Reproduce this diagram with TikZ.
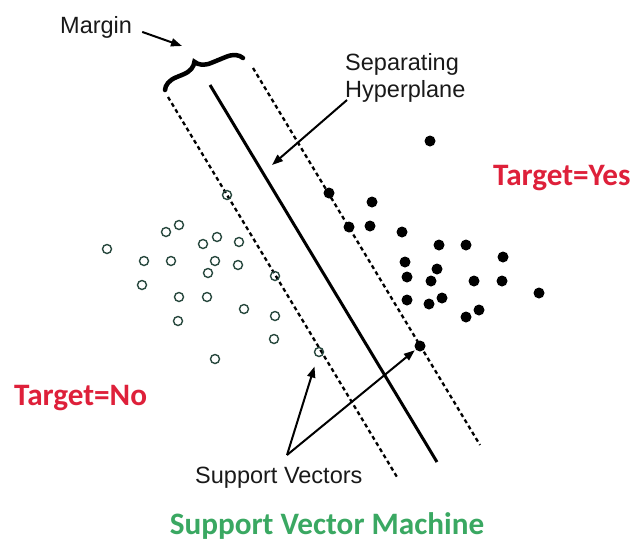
\documentclass[tikz,border=0pt]{standalone}
\usepackage{fontspec}
\setmainfont{Liberation Sans}
\newfontfamily\calib{Carlito}
\usetikzlibrary{decorations.pathreplacing,arrows.meta}
\definecolor{tred}{RGB}{222,32,58}
\definecolor{tgreen}{RGB}{58,168,98}
\definecolor{ocirc}{RGB}{40,72,62}
\begin{document}
\begin{tikzpicture}[x=1pt,y=-1pt,
  yesdot/.style={circle,fill=black,inner sep=0pt,minimum size=11pt},
  nodot/.style={circle,draw=ocirc,line width=1.4pt,inner sep=0pt,minimum size=9pt},
  marginline/.style={line width=2.3pt,dash pattern=on 4pt off 3.2pt},
  hyper/.style={line width=3pt},
  lbl/.style={font=\fontsize{23.5}{27}\selectfont,inner sep=0pt,text=black!90},
  ttl/.style={font=\calib\bfseries\fontsize{31.2}{35}\selectfont,inner sep=0pt},
  arr/.style={line width=2pt,-{Triangle[length=11pt,width=8pt]}}]
\useasboundingbox (0,0) rectangle (634,547);
% lines
\coordinate (hA) at (210,85); \coordinate (hB) at (437,462);
\coordinate (lA) at (168,97); \coordinate (lB) at (397,477);
\coordinate (rA) at (253,68); \coordinate (rB) at (480,445);
\draw[hyper] (hA) -- (hB);
\draw[marginline] (lA) -- (lB);
\draw[marginline] (rA) -- (rB);
% brace
\draw[line width=4.5pt,line cap=round,decorate,decoration={brace,amplitude=15pt,aspect=0.45}] (165,90) -- (243,58);
% filled dots
\foreach \x/\y [count=\i] in {430/141,329/193,372/202,349/227,370/226,402/232,439/245,466/245,503/257,405/262,437/269,407/277,431/281,474/281,502/281,539/293,407/300,429/304,442/298,479/310,466/317,420/346}
  \node[yesdot] (y\i) at (\x,\y) {};
% open circles
\foreach \x/\y [count=\i] in {107/249,166/232,179/225,203/244,217/237,239/242,144/261,171/261,215/261,208/273,238/265,275/276,142/285,179/297,207/297,244/309,275/316,178/321,274/339,215/359,227/195,319/352}
  \node[nodot] (n\i) at (\x,\y) {};
% labels
\node[lbl,anchor=base west] (margin) at (60,33) {Margin};
\coordinate (mtip) at (182,46);
\draw[arr] ([shift={(10,5)}]margin.east) -- (mtip);
\node[lbl,anchor=base west] (sep) at (345,70) {Separating};
\node[lbl,anchor=base west] (hyp) at (345,97) {Hyperplane};
\coordinate (htip) at (272,165);
\draw[arr] ([shift={(2,3)}]hyp.base west) -- (htip);
\node[lbl,anchor=base west] (sv) at (195,483) {Support Vectors};
\coordinate (svtail) at (287,455);
\draw[arr,shorten >=10pt] (svtail) -- (n22);
\draw[arr,shorten >=1pt] (svtail) -- (y22);
\node[ttl,text=tred,anchor=base west] (tyes) at (493,185) {Target=Yes};
\node[ttl,text=tred,anchor=base west] (tno) at (14,405) {Target=No};
\node[ttl,text=tgreen,anchor=base] (title) at (327,534) {Support Vector Machine};
\end{tikzpicture}
\end{document}
